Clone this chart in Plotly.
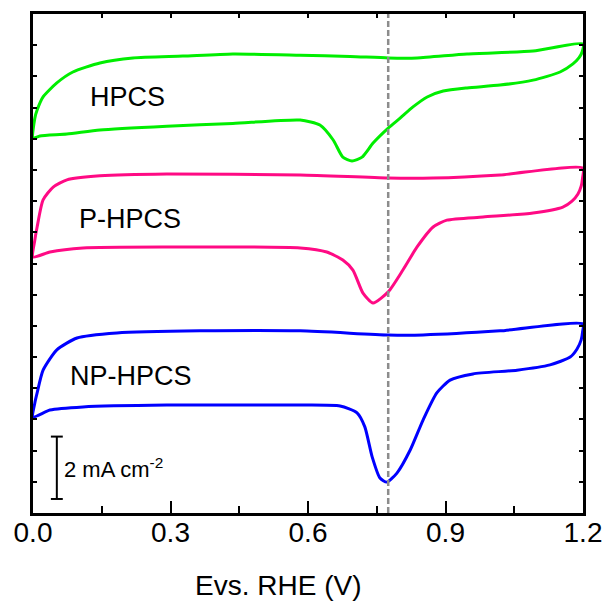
import plotly.graph_objects as go

# Cyclic voltammograms (current density in mA cm^-2, curves offset vertically)
# Each loop: anodic sweep 0 -> 1.2 V followed by cathodic sweep 1.2 -> 0 V

hpcs_v = [0.0, 0.004, 0.009, 0.022, 0.052, 0.087, 0.146, 0.218, 0.327, 0.436, 0.583, 0.692, 0.775, 0.838, 0.947, 1.091, 1.2,
          1.198, 1.191, 1.178, 1.150, 1.091, 1.019, 0.947, 0.895, 0.860, 0.829, 0.801, 0.775, 0.742, 0.718, 0.696, 0.676,
          0.655, 0.626, 0.583, 0.436, 0.292, 0.146, 0.074, 0.015, 0.0]
hpcs_j = [12.02, 12.66, 12.92, 13.34, 13.79, 14.14, 14.43, 14.59, 14.65, 14.72, 14.68, 14.64, 14.59, 14.59, 14.72, 14.81, 15.04,
          14.78, 14.59, 14.40, 14.14, 13.88, 13.72, 13.63, 13.53, 13.34, 13.02, 12.66, 12.34, 11.86, 11.41, 11.29, 11.41,
          11.96, 12.44, 12.60, 12.49, 12.40, 12.28, 12.15, 12.09, 12.02]

phpcs_v = [0.0, 0.004, 0.009, 0.022, 0.044, 0.074, 0.146, 0.292, 0.583, 0.775, 0.873, 1.019, 1.2,
           1.199, 1.196, 1.189, 1.176, 1.156, 1.091, 0.982, 0.903, 0.873, 0.838, 0.807, 0.775, 0.742, 0.720,
           0.698, 0.676, 0.641, 0.583, 0.292, 0.109, 0.037, 0.0]
phpcs_j = [8.21, 8.75, 9.17, 10.04, 10.45, 10.68, 10.81, 10.87, 10.84, 10.74, 10.74, 10.84, 11.06,
           10.74, 10.48, 10.23, 10.00, 9.81, 9.62, 9.49, 9.39, 9.17, 8.53, 7.79, 7.09, 6.73, 7.05,
           7.79, 8.11, 8.37, 8.50, 8.53, 8.50, 8.37, 8.21]

nphpcs_v = [0.0, 0.004, 0.009, 0.022, 0.052, 0.096, 0.183, 0.364, 0.583, 0.775, 0.851, 1.019, 1.2,
            1.199, 1.196, 1.187, 1.172, 1.128, 1.056, 0.960, 0.910, 0.881, 0.851, 0.823, 0.794, 0.772, 0.757,
            0.740, 0.724, 0.707, 0.670, 0.583, 0.292, 0.109, 0.037, 0.0]
nphpcs_j = [3.08, 3.53, 3.85, 4.58, 5.23, 5.61, 5.77, 5.84, 5.84, 5.71, 5.71, 5.84, 6.06,
            5.80, 5.55, 5.26, 5.00, 4.75, 4.58, 4.46, 4.26, 3.85, 2.98, 2.02, 1.28, 0.99, 1.12,
            1.80, 2.76, 3.21, 3.43, 3.46, 3.46, 3.40, 3.30, 3.08]

series_names = ["HPCS", "P-HPCS", "NP-HPCS"]
series_colors = ["#00ee00", "#ff0a84", "#0000ff"]
label_x = [0.207, 0.212, 0.214]
label_y = [13.34, 9.43, 4.39]

onset_potential = 0.775          # dashed reference line (V)
scale_bar_x = 0.052              # scale bar position (V)
scale_bar_j = [0.45, 2.45]       # 2 mA cm^-2 span
x_ticks = [0.0, 0.3, 0.6, 0.9, 1.2]
x_tick_text = ["0.0", "0.3", "0.6", "0.9", "1.2"]

FONT = "Liberation Sans, Arial, sans-serif"

fig = go.Figure()
for v, j, name, color in zip([hpcs_v, phpcs_v, nphpcs_v], [hpcs_j, phpcs_j, nphpcs_j], series_names, series_colors):
    fig.add_trace(go.Scatter(x=v, y=j, mode="lines", name=name,
                             line=dict(color=color, width=3, shape="spline", smoothing=0.6),
                             showlegend=False))

# invisible trace to activate the top axis
fig.add_trace(go.Scatter(x=[0, 1.2], y=[0, 0], xaxis="x2", mode="lines",
                         line=dict(width=0), hoverinfo="skip", showlegend=False))

for name, color, lx, ly in zip(series_names, series_colors, label_x, label_y):
    fig.add_annotation(x=lx, y=ly, text=name, showarrow=False,
                       font=dict(family=FONT, size=27, color="black"))

# dashed vertical guide
fig.add_shape(type="line", x0=onset_potential, x1=onset_potential, y0=0, y1=1,
              xref="x", yref="paper", line=dict(color="#8c8c8c", width=2.5, dash="6px,3px"))

# scale bar
fig.add_shape(type="line", x0=scale_bar_x, x1=scale_bar_x, y0=scale_bar_j[0], y1=scale_bar_j[1],
              xref="x", yref="y", line=dict(color="black", width=2))
for jj in scale_bar_j:
    fig.add_shape(type="line", x0=scale_bar_x - 0.013, x1=scale_bar_x + 0.013, y0=jj, y1=jj,
                  xref="x", yref="y", line=dict(color="black", width=2))
fig.add_annotation(x=scale_bar_x + 0.011, y=sum(scale_bar_j) / 2, xanchor="left", yanchor="middle",
                   text="2 mA cm<sup>-2</sup>", showarrow=False,
                   font=dict(family=FONT, size=22, color="black"))

# axis title
fig.add_annotation(x=0.445, y=-0.146, xref="paper", yref="paper", text="Evs. RHE (V)",
                   showarrow=False, yanchor="middle",
                   font=dict(family=FONT, size=28, color="black"))

fig.update_layout(
    width=609, height=608,
    margin=dict(l=33, r=26, t=14, b=95, autoexpand=False),
    plot_bgcolor="white", paper_bgcolor="white",
    xaxis=dict(range=[0, 1.2], tickvals=x_ticks, ticktext=x_tick_text, automargin=False,
               ticks="inside", ticklen=12, tickwidth=2, tickcolor="black",
               minor=dict(dtick=0.15, tick0=0, ticks="inside", ticklen=7, tickwidth=2, tickcolor="black"),
               showline=True, linewidth=3, linecolor="black", mirror=False,
               showgrid=False, zeroline=False, ticklabelstandoff=-8,
               tickfont=dict(family=FONT, size=28, color="black")),
    xaxis2=dict(range=[0, 1.2], overlaying="x", side="top", dtick=0.15, tick0=0, automargin=False,
                ticks="inside", ticklen=4, tickwidth=1.5, tickcolor="black",
                showticklabels=False, showline=True, linewidth=3, linecolor="black",
                showgrid=False, zeroline=False),
    yaxis=dict(range=[0, 16], dtick=1, tick0=0, ticks="inside", ticklen=4, tickwidth=1.5,
               tickcolor="black", showticklabels=False, showline=True, linewidth=3, automargin=False,
               linecolor="black", mirror="ticks", showgrid=False, zeroline=False),
)

fig.write_html("out.html")
